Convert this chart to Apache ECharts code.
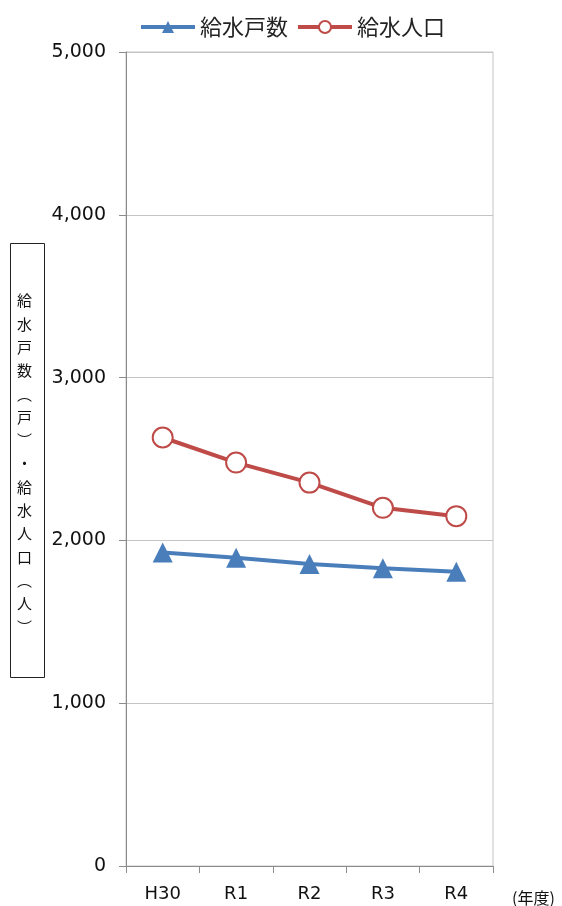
<!DOCTYPE html>
<html><head><meta charset="utf-8">
<script src="https://cdn.jsdelivr.net/npm/echarts@6/dist/echarts.min.js"></script>
<style>html,body{margin:0;padding:0;background:#fff}#c{width:562px;height:906px}</style>
</head><body><div id="c"></div>
<script>
const categories = ['H30','R1','R2','R3','R4'];
const households = [1925, 1894, 1855, 1829, 1808];
const population = [2632, 2478, 2355, 2200, 2149];
const yTitleChars = ['給','水','戸','数','︵','戸','︶','・','給','水','人','口','︵','人','︶'];

const chart = echarts.init(document.getElementById('c'));
const numFont = 'DejaVu Sans, Verdana, sans-serif';
const jpFont = '"Noto Sans CJK JP", sans-serif';
chart.setOption({
  animation: false,
  legend: {
    top: 11, left: 134, itemWidth: 54, itemHeight: 15, itemGap: 8,
    lineStyle: {width: 4},
    textStyle: {fontFamily: jpFont, fontSize: 22, color: '#222'},
    data: ['給水戸数','給水人口']
  },
  grid: {left: 126, right: 69, top: 52, bottom: 40, show: true, borderColor: '#c4c4c4', borderWidth: 1},
  xAxis: {
    type: 'category', data: categories, boundaryGap: true,
    axisLine: {lineStyle: {color: '#8c8c8c', width: 1}},
    axisTick: {show: true, length: 7, lineStyle: {color: '#8c8c8c'}},
    axisLabel: {fontFamily: numFont, fontSize: 18, color: '#111', margin: 19},
    name: '(年度)', nameLocation: 'end', nameGap: 19,
    nameTextStyle: {fontFamily: jpFont, fontSize: 16, color: '#111', verticalAlign: 'top', padding: [24,0,0,0]}
  },
  yAxis: {
    type: 'value', min: 0, max: 5000, interval: 1000,
    axisLine: {show: true, lineStyle: {color: '#8c8c8c'}},
    axisTick: {show: true, length: 7, lineStyle: {color: '#8c8c8c'}},
    splitLine: {lineStyle: {color: '#c4c4c4'}},
    axisLabel: {fontFamily: numFont, fontSize: 19, color: '#111', margin: 20,
      formatter: v => v.toLocaleString('en-US')}
  },
  series: [
    {name: '給水戸数', type: 'line', data: households, symbol: 'triangle', symbolSize: 20,
     lineStyle: {color: '#4a7ebb', width: 4}, itemStyle: {color: '#4a7ebb'}, z: 3},
    {name: '給水人口', type: 'line', data: population, symbol: 'circle', symbolSize: 20,
     lineStyle: {color: '#be4b48', width: 4}, itemStyle: {color: '#fff', borderColor: '#be4b48', borderWidth: 2}, z: 4}
  ],
  graphic: [
    {type: 'rect', left: 10, top: 243, shape: {width: 34, height: 434},
     style: {fill: '#fff', stroke: '#222', lineWidth: 1}},
    {type: 'text', left: 17, top: 289,
     style: {text: yTitleChars.join('\n'), fontFamily: jpFont, fontSize: 15, lineHeight: 23.3, fill: '#111', align: 'center', width: 20}}
  ]
});
</script></body></html>
